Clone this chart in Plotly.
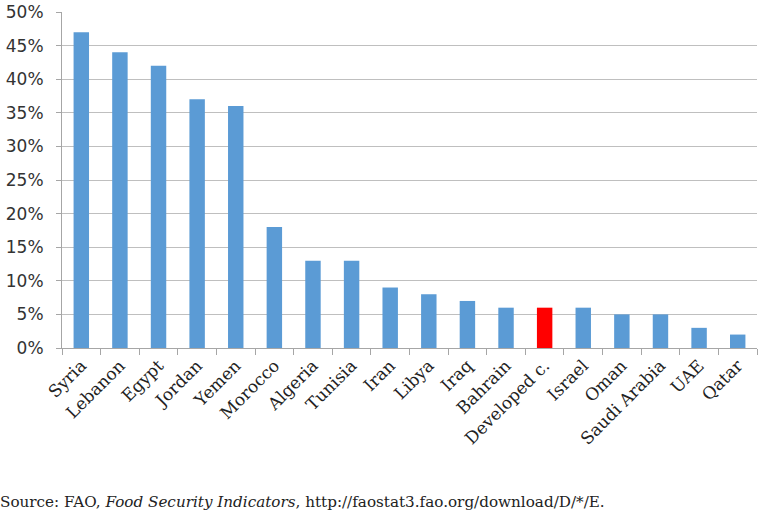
import plotly.graph_objects as go

# food share data
countries = ["Syria", "Lebanon", "Egypt", "Jordan", "Yemen", "Morocco",
             "Algeria", "Tunisia", "Iran", "Libya", "Iraq", "Bahrain",
             "Developed c.", "Israel", "Oman", "Saudi Arabia", "UAE", "Qatar"]
shares = [0.47, 0.44, 0.42, 0.37, 0.36, 0.18, 0.13, 0.13, 0.09, 0.08,
          0.07, 0.06, 0.06, 0.06, 0.05, 0.05, 0.03, 0.02]
y_ticks = [0, 0.05, 0.10, 0.15, 0.20, 0.25, 0.30, 0.35, 0.40, 0.45, 0.50]

BLUE = "#5B9BD5"
RED = "#FF0000"
colors = [RED if c == "Developed c." else BLUE for c in countries]

fig = go.Figure(go.Bar(x=countries, y=shares, marker_color=colors,
                       marker_line_width=0))

fig.update_layout(
    width=768, height=513,
    margin=dict(l=62, r=11, t=12, b=165),
    plot_bgcolor="white", paper_bgcolor="white",
    bargap=0.6,
    showlegend=False,
    font=dict(family="DejaVu Sans", color="#333333"),
)
fig.update_yaxes(
    range=[0, 0.5], tickvals=y_ticks, tickformat=".0%",
    showgrid=True, gridcolor="#BFBFBF", gridwidth=1,
    showline=True, linecolor="#A6A6A6", linewidth=1,
    ticks="outside", ticklen=5, tickcolor="#A6A6A6",
    ticklabelstandoff=9,
    tickfont=dict(size=17, color="#333333"), zeroline=False,
    automargin=False,
)
fig.update_xaxes(
    tickangle=-45, tickson="boundaries",
    showline=True, linecolor="#A6A6A6", linewidth=1,
    ticks="outside", ticklen=6, tickcolor="#A6A6A6",
    tickfont=dict(family="DejaVu Serif", size=17, color="#222222"),
    automargin=False,
)
fig.add_annotation(
    text="Source: FAO, <i>Food Security Indicators</i>, http://faostat3.fao.org/download/D/*/E.",
    xref="paper", yref="paper", x=-0.092, y=-0.458, xanchor="left", yanchor="middle",
    showarrow=False, font=dict(family="DejaVu Serif", size=15.2, color="#222222"),
)

# drop the default 8px page margin so the figure sits at the window corner
fig.write_html("out.html", config={"displayModeBar": False},
               post_script="document.body.style.margin='0';")
